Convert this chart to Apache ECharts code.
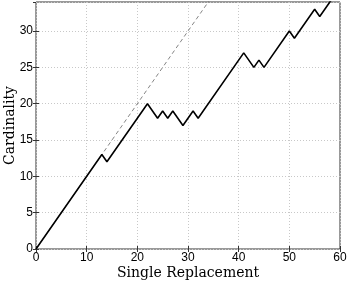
<!DOCTYPE html>
<html>
<head>
<meta charset="utf-8">
<script src="https://cdn.jsdelivr.net/npm/echarts@6/dist/echarts.min.js"></script>
<style>html,body{margin:0;padding:0;background:#fff;}#c{width:350px;height:283px;}</style>
</head>
<body>
<div id="c"></div>
<script>
var xValues = [0, 13, 14, 22, 24, 25, 26, 27, 29, 31, 32, 41, 43, 44, 45, 50, 51, 55, 56, 58, 60];
var yValues = [0, 13, 12, 20, 18, 19, 18, 19, 17, 19, 18, 27, 25, 26, 25, 30, 29, 33, 32, 34, 36];
var refX = [0, 40];
var refY = [0, 40];
var xTicks = [0, 10, 20, 30, 40, 50, 60];
var yTicks = [0, 5, 10, 15, 20, 25, 30];
var xTitle = 'Single Replacement';
var yTitle = 'Cardinality';

var chart = echarts.init(document.getElementById('c'), null, {renderer: 'canvas'});
var tickFont = {fontFamily: 'Liberation Sans', fontSize: 12, color: '#000'};
var titleFont = {fontFamily: 'DejaVu Serif', fontSize: 14, color: '#000'};
function pairs(xs, ys){ return xs.map(function(x,i){return [x, ys[i]];}); }
chart.setOption({
  animation: false,
  backgroundColor: '#fff',
  grid: {left: 36, right: 10, top: 2, bottom: 34, containLabel: false, outerBoundsMode: 'none', show: true, borderColor: '#333', borderWidth: 1, backgroundColor: 'transparent'},
  xAxis: [{
    type: 'value', min: 0, max: 60, interval: 10, position: 'bottom',
    name: xTitle, nameLocation: 'middle', nameGap: 17, nameMoveOverlap: false,
    nameTextStyle: titleFont,
    axisLine: {show: false},
    axisTick: {show: true, inside: true, length: 3, lineStyle: {color: '#333'}},
    axisLabel: Object.assign({margin: 3, formatter: function(v){return xTicks.indexOf(v) >= 0 ? String(v) : '';}}, tickFont),
    splitLine: {show: true, lineStyle: {color: '#c8c8c8', type: [1, 2], width: 1}}
  }, {
    type: 'value', min: 0, max: 60, interval: 10, position: 'top',
    axisLine: {show: false}, axisLabel: {show: false},
    axisTick: {show: true, inside: true, length: 3, lineStyle: {color: '#333'}},
    splitLine: {show: false}
  }],
  yAxis: [{
    type: 'value', min: 0, max: 34, interval: 5, position: 'left',
    name: yTitle, nameLocation: 'middle', nameGap: 19, nameMoveOverlap: false,
    nameTextStyle: titleFont,
    axisLine: {show: false},
    axisTick: {show: true, inside: true, length: 3, lineStyle: {color: '#333'}},
    axisLabel: Object.assign({margin: 3, showMaxLabel: false, formatter: function(v){return yTicks.indexOf(v) >= 0 ? String(v) : '';}}, tickFont),
    splitLine: {show: true, lineStyle: {color: '#c8c8c8', type: [1, 2], width: 1}}
  }, {
    type: 'value', min: 0, max: 34, interval: 5, position: 'right',
    axisLine: {show: false}, axisLabel: {show: false},
    axisTick: {show: true, inside: true, length: 3, lineStyle: {color: '#333'}},
    splitLine: {show: false}
  }],
  series: [{
    type: 'line', data: pairs(refX, refY), showSymbol: false, clip: true,
    lineStyle: {color: '#666', width: 0.8, type: [4, 3]}, z: 2
  }, {
    type: 'line', data: pairs(xValues, yValues), showSymbol: false, clip: true,
    lineStyle: {color: '#000', width: 1.6}, z: 3
  }]
});
</script>
</body>
</html>
